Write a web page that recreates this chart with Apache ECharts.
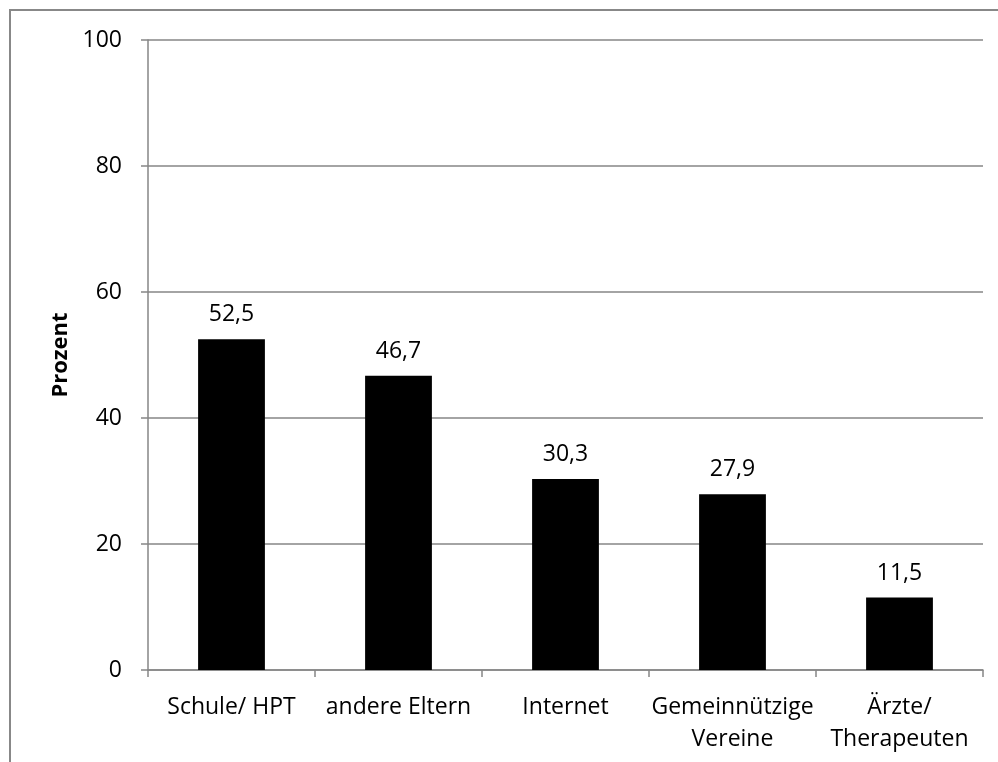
<!DOCTYPE html>
<html><head><meta charset="utf-8">
<script src="https://cdn.jsdelivr.net/npm/echarts@6/dist/echarts.min.js"></script>
<style>html,body{margin:0;padding:0;background:#fff}#c{width:998px;height:762px}</style>
</head><body><div id="c"></div>
<script>
const categories = ["Schule/ HPT", "andere Eltern", "Internet", "Gemeinnützige\nVereine", "Ärzte/\nTherapeuten"];
const values = [52.5, 46.7, 30.3, 27.9, 11.5];
const yTicks = [0, 20, 40, 60, 80, 100];
const axisTitle = "Prozent";

const FONT = "Open Sans";
const chart = echarts.init(document.getElementById('c'), null, {renderer: 'canvas'});
chart.setOption({
  animation: false,
  backgroundColor: '#fff',
  textStyle: {fontFamily: FONT},
  graphic: [{
    type: 'rect', shape: {x: 10, y: 10, width: 1100, height: 900},
    style: {fill: 'none', stroke: '#888888', lineWidth: 2}, silent: true, z: -1
  }],
  grid: {left: 148, right: 15, top: 40, bottom: 92, containLabel: false},
  xAxis: {
    type: 'category', data: categories,
    axisLine: {lineStyle: {color: '#868686', width: 1.5}},
    axisTick: {show: true, length: 7, alignWithLabel: false, lineStyle: {color: '#868686', width: 1.5}},
    axisLabel: {color: '#000', fontSize: 23, fontFamily: FONT, margin: 21, lineHeight: 32, interval: 0}
  },
  yAxis: {
    type: 'value', min: yTicks[0], max: yTicks[yTicks.length - 1], interval: 20,
    name: axisTitle, nameLocation: 'middle', nameGap: 75, nameRotate: 90,
    nameTextStyle: {color: '#000', fontSize: 22, fontWeight: 'bold', fontFamily: FONT},
    axisLine: {show: true, lineStyle: {color: '#868686', width: 1.5}},
    axisTick: {show: true, length: 7, lineStyle: {color: '#868686', width: 1.5}},
    splitLine: {show: true, lineStyle: {color: '#868686', width: 1.5}},
    axisLabel: {color: '#000', fontSize: 23, fontFamily: FONT, margin: 26}
  },
  series: [{
    type: 'bar', data: values, barWidth: '40%',
    itemStyle: {color: '#000'},
    label: {
      show: true, position: 'top', distance: 13, color: '#000', fontSize: 23, fontFamily: FONT,
      formatter: p => String(p.value).replace('.', ',')
    }
  }]
});
</script></body></html>
